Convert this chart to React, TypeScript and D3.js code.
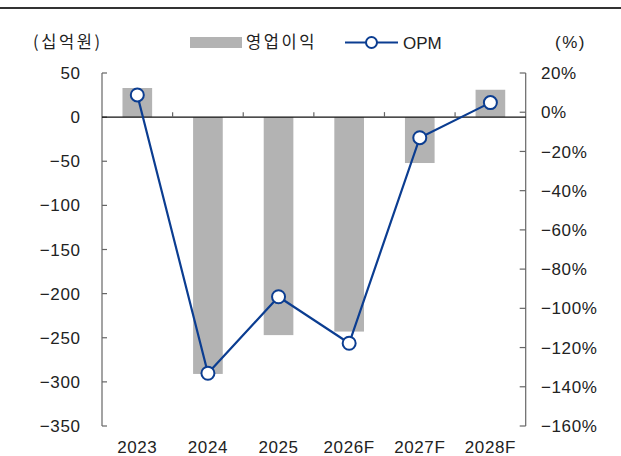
import * as d3 from "d3";

// 영업이익 (십억원) and OPM (%)
const years = ["2023", "2024", "2025", "2026F", "2027F", "2028F"];
const profit = [33, -291, -247, -243, -52, 31];
const opm = [8.8, -133.1, -94.1, -117.8, -13.0, 4.9];
const leftTicks = [50, 0, -50, -100, -150, -200, -250, -300, -350];
const rightTicks = [20, 0, -20, -40, -60, -80, -100, -120, -140, -160];

const W = 621,
	H = 456;
const left = 102,
	right = 525.7,
	top = 73,
	bottom = 426;

const krFont = "'Noto Sans CJK KR', sans-serif";
const numFont = "'Liberation Sans', Arial, sans-serif";
const axisColor = "#666";
const textColor = "#222";
const barColor = "#b3b3b3";
const lineColor = "#0b3d91";

const fmt = (v: number) => (v < 0 ? "\u2212" + Math.abs(v) : String(v));

export default function App() {
	const x = d3.scaleBand().domain(years).range([left, right]).paddingInner(0).paddingOuter(0);
	const yL = d3.scaleLinear().domain([-350, 50]).range([bottom, top]);
	const yR = d3.scaleLinear().domain([-160, 20]).range([bottom, top]);
	const barW = x.bandwidth() * 0.42;
	const cx = (d: string) => (x(d) as number) + x.bandwidth() / 2;

	const line = d3
		.line<number>()
		.x((_, i) => cx(years[i]))
		.y((d) => yR(d));

	const num = { fontFamily: numFont, fontSize: 17, fill: textColor, letterSpacing: 0.6 };
	const kr = { fontFamily: krFont, fontSize: 16.5, fill: textColor, letterSpacing: 2.6 };

	return (
		<svg width={W} height={H} style={{ position: "absolute", left: 0, top: 0 }}>
			<rect width={W} height={H} fill="#fff" />
			<line x1={0} x2={W} y1={8} y2={8} stroke="#333" strokeWidth={2} />

			{/* titles */}
			<text x={33} y={48} {...kr}>
				(십억원)
			</text>
			<text x={555} y={48} {...num} letterSpacing={1.5}>
				(%)
			</text>

			{/* legend */}
			<rect x={190} y={37} width={52} height={11} fill={barColor} />
			<text x={246} y={48} {...kr}>
				영업이익
			</text>
			<line x1={345} x2={398} y1={42.5} y2={42.5} stroke={lineColor} strokeWidth={2.2} />
			<circle cx={371.5} cy={42.5} r={5.5} fill="#fff" stroke={lineColor} strokeWidth={2} />
			<text x={403} y={48.5} {...num} letterSpacing={0}>
				OPM
			</text>

			{/* bars */}
			{profit.map((v, i) => (
				<rect
					key={years[i]}
					x={cx(years[i]) - barW / 2}
					y={yL(Math.max(0, v))}
					width={barW}
					height={Math.abs(yL(v) - yL(0))}
					fill={barColor}
				/>
			))}

			{/* left axis */}
			<line x1={left} x2={left} y1={top} y2={bottom} stroke={axisColor} strokeWidth={1.2} />
			{leftTicks.map((t) => (
				<g key={t}>
					<line x1={left} x2={left + 5} y1={yL(t)} y2={yL(t)} stroke={axisColor} strokeWidth={1.2} />
					<text x={80.5} y={yL(t)} dy="0.36em" textAnchor="end" {...num}>
						{fmt(t)}
					</text>
				</g>
			))}

			{/* right axis */}
			<line x1={right} x2={right} y1={top} y2={bottom} stroke={axisColor} strokeWidth={1.2} />
			{rightTicks.map((t) => (
				<g key={t}>
					<line x1={right - 6} x2={right} y1={yR(t)} y2={yR(t)} stroke={axisColor} strokeWidth={1.2} />
					<text x={541} y={yR(t)} dy="0.36em" {...num}>
						{fmt(t) + "%"}
					</text>
				</g>
			))}

			{/* zero line with category ticks */}
			<line x1={left} x2={right} y1={yL(0)} y2={yL(0)} stroke="#111" strokeWidth={1.2} />
			{years.slice(1).map((d) => (
				<line key={d} x1={x(d) as number} x2={x(d) as number} y1={yL(0)} y2={yL(0) - 5} stroke={axisColor} strokeWidth={1.2} />
			))}

			{/* x labels */}
			{years.map((d) => (
				<text key={d} x={cx(d)} y={452.5} textAnchor="middle" {...num}>
					{d}
				</text>
			))}

			{/* OPM line */}
			<path d={line(opm) ?? ""} fill="none" stroke={lineColor} strokeWidth={2.2} />
			{opm.map((v, i) => (
				<circle key={years[i]} cx={cx(years[i])} cy={yR(v)} r={6.5} fill="#fff" stroke={lineColor} strokeWidth={2} />
			))}
		</svg>
	);
}
